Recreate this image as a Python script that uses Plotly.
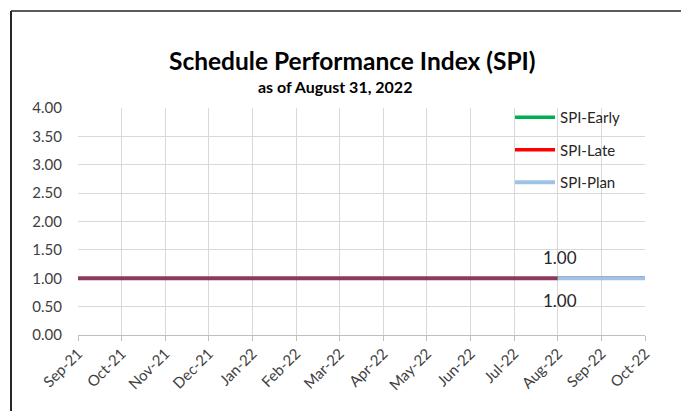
import plotly.graph_objects as go

months = ["Sep-21", "Oct-21", "Nov-21", "Dec-21", "Jan-22", "Feb-22", "Mar-22",
          "Apr-22", "May-22", "Jun-22", "Jul-22", "Aug-22", "Sep-22", "Oct-22"]

spi_x = months[:12]
spi_actual = [1.00] * 12

fc_x = ["Aug-22", "Sep-22", "Oct-22"]
spi_early = [1.00, 1.00, 1.00]
spi_late = [1.00, 1.00, 1.00]
spi_plan = [1.00, 1.00, 1.00]

y_ticks = [0, 0.5, 1, 1.5, 2, 2.5, 3, 3.5, 4]

# page has an 8px body margin, so the figure is drawn 8px in from the window edge
OFF = 8
W, H = 689 - OFF, 411 - OFF
L, R, T, B = 70, 44, 100, 76

FONT = "Lato"

fig = go.Figure()
fig.add_trace(go.Scatter(x=spi_x, y=spi_actual, mode="lines", name="SPI",
                         line=dict(color="#8C3A5C", width=4), showlegend=False))
fig.add_trace(go.Scatter(x=fc_x, y=spi_early, mode="lines", name="SPI-Early",
                         line=dict(color="#00B050", width=3.5), legendgroup="a"))
fig.add_trace(go.Scatter(x=fc_x, y=spi_late, mode="lines", name="SPI-Late",
                         line=dict(color="#FF0000", width=3.5), legendgroup="b"))
fig.add_trace(go.Scatter(x=fc_x, y=spi_plan, mode="lines", name="SPI-Plan",
                         line=dict(color="#9DC3E6", width=4), legendgroup="c"))

fig.add_annotation(x=fc_x[0], y=spi_early[0], text=f"{spi_early[0]:.2f}", showarrow=False,
                   yshift=21, xshift=2, font=dict(family=FONT, size=17, color="#262626"))
fig.add_annotation(x=fc_x[0], y=spi_late[0], text=f"{spi_late[0]:.2f}", showarrow=False,
                   yshift=-22, xshift=2, font=dict(family=FONT, size=17, color="#262626"))

pw = W - L - R
ph = H - T - B
def px_x(p):
    return (p - OFF - L) / pw
def px_y(p):
    return (H - B - (p - OFF)) / ph

# title and subtitle
fig.add_annotation(xref="paper", yref="paper", x=px_x(352), y=px_y(61), text="<b>Schedule Performance Index (SPI)</b>",
                   showarrow=False, xanchor="center", yanchor="middle",
                   font=dict(family=FONT, size=24.5, color="#000000"))
fig.add_annotation(xref="paper", yref="paper", x=px_x(335), y=px_y(87), text="<b>as of August 31, 2022</b>",
                   showarrow=False, xanchor="center", yanchor="middle",
                   font=dict(family=FONT, size=16, color="#000000"))

# outer chart frame (left, top, right)
fig.add_shape(type="line", xref="paper", yref="paper", x0=px_x(11), x1=px_x(11),
              y0=px_y(11), y1=px_y(430), line=dict(color="#262626", width=2))
fig.add_shape(type="line", xref="paper", yref="paper", x0=px_x(11), x1=px_x(688),
              y0=px_y(11), y1=px_y(11), line=dict(color="#262626", width=1.5))
fig.add_shape(type="line", xref="paper", yref="paper", x0=px_x(687.5), x1=px_x(687.5),
              y0=px_y(11), y1=px_y(430), line=dict(color="#262626", width=2))

fig.update_layout(
    width=W, height=H,
    margin=dict(l=L, r=R, t=T, b=B, autoexpand=False),
    paper_bgcolor="white", plot_bgcolor="white",
    xaxis=dict(type="category", categoryorder="array", categoryarray=months,
               range=[0, 13], tickvals=months, ticktext=months, tickangle=-45,
               showgrid=True, gridcolor="#D9D9D9", gridwidth=1, automargin=False,
               showline=True, linecolor="#BFBFBF", linewidth=1,
               ticks="outside", ticklen=5, tickcolor="#BFBFBF", ticklabelstandoff=-2,
               tickfont=dict(family=FONT, size=15, color="#404040"), zeroline=False),
    yaxis=dict(range=[0, 4], tickvals=y_ticks, tickformat=".2f", automargin=False,
               showgrid=True, gridcolor="#D9D9D9", gridwidth=1, zeroline=False,
               showline=False, ticks="", ticklabelstandoff=15,
               tickfont=dict(family=FONT, size=15, color="#404040")),
    legend=dict(x=px_x(510), y=px_y(101), xanchor="left", yanchor="top",
                bgcolor="rgba(0,0,0,0)", font=dict(family=FONT, size=15, color="#262626"),
                tracegroupgap=10, traceorder="grouped", itemwidth=40),
    showlegend=True,
)

fig.write_html("out.html")
